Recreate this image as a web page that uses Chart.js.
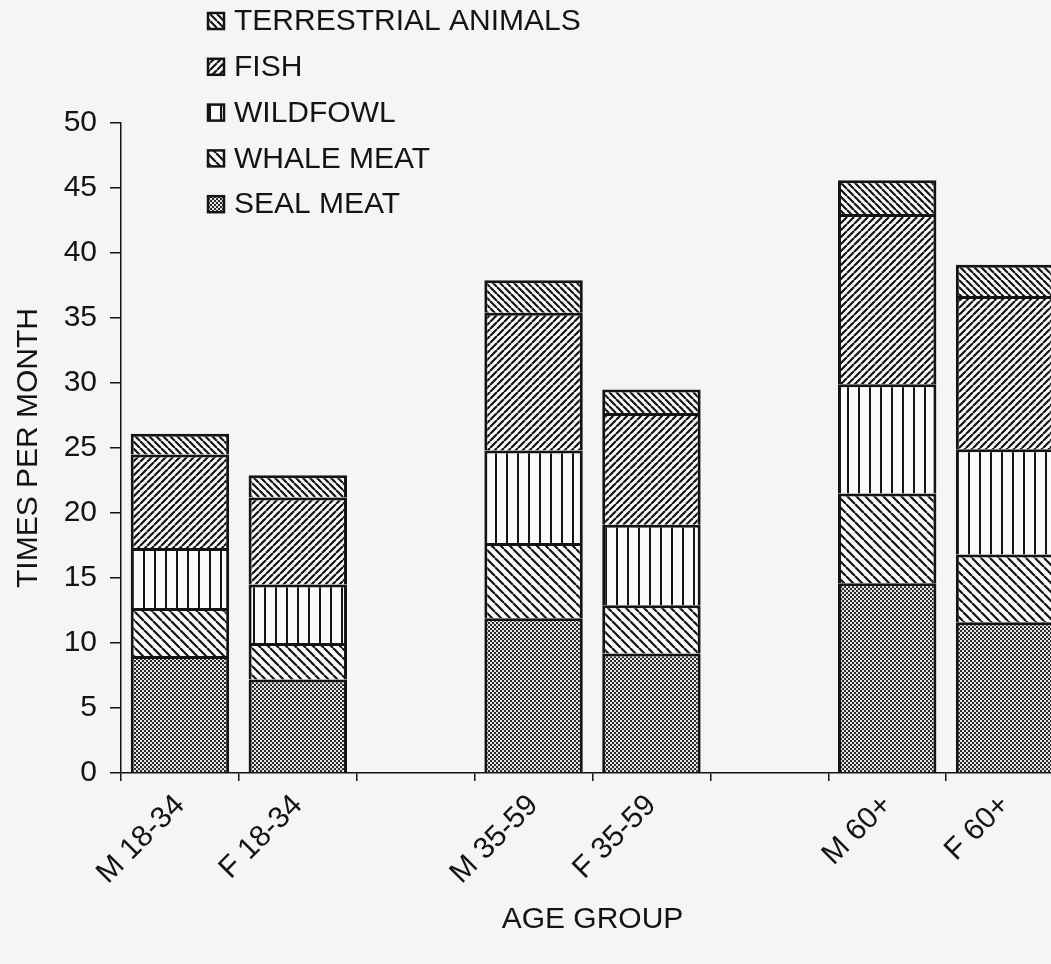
<!DOCTYPE html>
<html>
<head>
<meta charset="utf-8">
<script src="https://cdn.jsdelivr.net/npm/chart.js@4/dist/chart.umd.min.js"></script>
<style>
  html, body { margin: 0; padding: 0; background: #f5f5f5; overflow: hidden; }
  #wrap { position: relative; width: 1051px; height: 964px; overflow: hidden; }
  canvas { display: block; }
</style>
</head>
<body>
<div id="wrap"><canvas id="chart" width="1066" height="964"></canvas></div>
<script>
// Age groups (blank slots separate the three age bands)
const categories = ['M 18-34', 'F 18-34', '', 'M 35-59', 'F 35-59', '', 'M 60+', 'F 60+'];

// Times per month each food is eaten
const sealMeat    = [9.0, 7.2, null, 11.9, 9.2, null, 14.6, 11.6];
const whaleMeat   = [3.7, 2.8, null, 5.8, 3.7, null, 6.9, 5.2];
const wildfowl    = [4.6, 4.5, null, 7.1, 6.2, null, 8.4, 8.1];
const fish        = [7.2, 6.7, null, 10.6, 8.6, null, 13.1, 11.8];
const terrestrial = [1.6, 1.7, null, 2.5, 1.8, null, 2.6, 2.4];

const yTicks = [0, 5, 10, 15, 20, 25, 30, 35, 40, 45, 50];

const FONT = '"Liberation Sans", Arial, sans-serif';
const INK = '#141414';
const PAPER = '#fafafa';

// Monochrome hatch fills
function hatch(kind, size, width) {
  const c = document.createElement('canvas');
  c.width = size; c.height = size;
  const g = c.getContext('2d');
  g.fillStyle = PAPER;
  g.fillRect(0, 0, size, size);
  g.strokeStyle = INK;
  g.fillStyle = INK;
  g.lineWidth = width;
  if (kind === 'check') {
    g.fillStyle = '#2b2b2b';
    g.fillRect(0, 0, size, size);
    g.fillStyle = '#e2e2e2';
    const h = size / 2;
    g.fillRect(0, 0, h, h);
    g.fillRect(h, h, h, h);
  } else if (kind === 'vert') {
    g.fillRect(0, 0, width, size);
  } else {
    g.beginPath();
    for (let k = -1; k <= 1; k++) {
      if (kind === 'down') { g.moveTo(k * size, 0); g.lineTo(k * size + size, size); }
      else { g.moveTo(k * size, size); g.lineTo(k * size + size, 0); }
    }
    g.stroke();
  }
  return g.createPattern(c, 'repeat');
}

const fills = {
  seal: hatch('check', 4, 0),
  whale: hatch('down', 9, 2.2),
  wildfowl: hatch('vert', 11, 2),
  fish: hatch('up', 7, 2.2),
  terrestrial: hatch('down', 7, 2.2)
};

function series(label, data, fill) {
  return {
    label, data,
    backgroundColor: fill,
    borderColor: INK,
    borderWidth: 3,
    borderSkipped: 'start',
    barPercentage: 0.835,
    categoryPercentage: 1.0
  };
}

// Legend stacked in a column, top item = top of the stack
const hatchLegend = {
  id: 'hatchLegend',
  afterDraw(chart) {
    const ctx = chart.ctx;
    const sets = chart.data.datasets.slice().reverse();
    ctx.save();
    ctx.font = '30px ' + FONT;
    ctx.textBaseline = 'middle';
    ctx.textAlign = 'left';
    sets.forEach((ds, i) => {
      const cy = 21 + i * 45.8;
      ctx.fillStyle = ds.backgroundColor;
      ctx.fillRect(208, cy - 8, 16, 16);
      ctx.strokeStyle = INK;
      ctx.lineWidth = 2.5;
      ctx.strokeRect(208, cy - 8, 16, 16);
      ctx.fillStyle = INK;
      ctx.fillText(ds.label, 234, cy + 1);
    });
    ctx.restore();
  }
};

new Chart(document.getElementById('chart'), {
  type: 'bar',
  data: {
    labels: categories,
    datasets: [
      series('SEAL MEAT', sealMeat, fills.seal),
      series('WHALE MEAT', whaleMeat, fills.whale),
      series('WILDFOWL', wildfowl, fills.wildfowl),
      series('FISH', fish, fills.fish),
      series('TERRESTRIAL ANIMALS', terrestrial, fills.terrestrial)
    ]
  },
  options: {
    responsive: false,
    animation: false,
    devicePixelRatio: 1,
    layout: { padding: { top: 123, right: 2, left: 0, bottom: 0 } },
    plugins: { legend: { display: false }, tooltip: { enabled: false } },
    scales: {
      x: {
        stacked: true,
        offset: true,
        afterFit(s) { s.height = 191; },
        grid: { display: true, drawOnChartArea: false, offset: true, tickLength: 8, color: INK, lineWidth: 1.5 },
        border: { display: true, color: INK, width: 1.5 },
        ticks: {
          autoSkip: false, minRotation: 45, maxRotation: 45, padding: 7,
          color: INK, font: { family: FONT, size: 30 }
        },
        title: {
          display: true, text: 'AGE GROUP', color: INK,
          font: { family: FONT, size: 30 }, padding: { top: 0, bottom: 26 }
        }
      },
      y: {
        stacked: true,
        min: 0, max: 50,
        afterFit(s) { s.width = 121; },
        afterBuildTicks(s) { s.ticks = yTicks.map(v => ({ value: v })); },
        grid: { display: true, drawOnChartArea: false, tickLength: 11, color: INK, lineWidth: 1.5 },
        border: { display: true, color: INK, width: 1.5 },
        ticks: { padding: 13, color: INK, font: { family: FONT, size: 30 } },
        title: {
          display: true, text: 'TIMES PER MONTH', color: INK,
          font: { family: FONT, size: 30 }, padding: { top: 11, bottom: 0 }
        }
      }
    }
  },
  plugins: [hatchLegend]
});
</script>
</body>
</html>
